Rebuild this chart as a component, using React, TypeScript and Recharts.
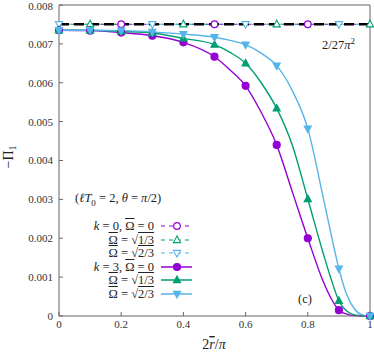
import React from 'react';
import { LineChart, Line, XAxis, YAxis } from 'recharts';

// abscissa 2r/pi
const xs = [0, 0.1, 0.2, 0.3, 0.4, 0.5, 0.55, 0.6, 0.65, 0.7, 0.75, 0.8, 0.85, 0.875, 0.9, 0.925, 0.95, 0.975, 1];
// k = 3 curves
const k3Omega0 = [0.00735, 0.00734, 0.00729, 0.00721, 0.00704, 0.00667, 0.00633, 0.00592, 0.00524, 0.0044, 0.0032, 0.002, 0.00088, 0.00045, 0.00015, 0.00005, 0.00001, 0, 0];
const k3OmegaSqrt13 = [0.00735, 0.00735, 0.00732, 0.00728, 0.00714, 0.00698, 0.00678, 0.0065, 0.006, 0.00534, 0.0044, 0.00301, 0.0016, 0.00095, 0.00039, 0.00013, 0.00003, 0.000005, 0];
const k3OmegaSqrt23 = [0.00735, 0.00735, 0.00734, 0.00731, 0.00725, 0.00717, 0.00709, 0.00698, 0.00676, 0.00644, 0.0058, 0.00482, 0.00303, 0.0021, 0.00122, 0.00055, 0.00018, 0.00003, 0];

// k = 0 curves (flat)
const k0Xs = [0, 0.1, 0.2, 0.3, 0.4, 0.5, 0.6, 0.7, 0.8, 0.9, 1];
const k0Omega0 = [0.007505, 0.007505, 0.007505, 0.007505, 0.007505, 0.007505, 0.007505, 0.007505, 0.007505, 0.007505, 0.007505];
const k0OmegaSqrt13 = [0.007505, 0.007505, 0.007505, 0.007505, 0.007505, 0.007505, 0.007505, 0.007505, 0.007505, 0.007505, 0.007505];
const k0OmegaSqrt23 = [0.007505, 0.007505, 0.007505, 0.007505, 0.007505, 0.007505, 0.007505, 0.007505, 0.007505, 0.007505, 0.007505];

// bound 2/27pi^2
const boundXs = [0, 1];
const boundValues = [0.007505, 0.007505];

// where markers sit
const k0Omega0Marks = [0.2, 0.5, 0.8];
const k0Sqrt13Marks = [0.1, 0.4, 0.7, 1];
const k0Sqrt23Marks = [0, 0.3, 0.6, 0.9];
const k3Marks = [0, 0.1, 0.2, 0.3, 0.4, 0.5, 0.6, 0.7, 0.8, 0.9, 1];

const xTicks = [0, 0.2, 0.4, 0.6, 0.8, 1];
const yTicks = [0, 0.001, 0.002, 0.003, 0.004, 0.005, 0.006, 0.007, 0.008];

const PURPLE = '#9400d3';
const GREEN = '#009e73';
const BLUE = '#56b4e9';
const AXIS = '#666';
const SERIF = 'Liberation Serif, DejaVu Serif, serif';

const mainData = xs.map((x, i) => ({ x, p: k3Omega0[i], g: k3OmegaSqrt13[i], b: k3OmegaSqrt23[i] }));
const k0Data = k0Xs.map((x, i) => ({ x, p: k0Omega0[i], g: k0OmegaSqrt13[i], b: k0OmegaSqrt23[i] }));
const boundData = boundXs.map((x, i) => ({ x, v: boundValues[i] }));

type Shape = 'circle' | 'up' | 'down';

function Marker({ shape, cx, cy, color, open }: { shape: Shape; cx: number; cy: number; color: string; open?: boolean }) {
  const fill = open ? '#fff' : color;
  if (shape === 'circle') return <circle cx={cx} cy={cy} r={open ? 3.3 : 3.5} fill={fill} stroke={color} strokeWidth={1.2} />;
  if (shape === 'up')
    return <polygon points={`${cx},${cy - 4} ${cx - 3.6},${cy + 2.6} ${cx + 3.6},${cy + 2.6}`} fill={fill} stroke={color} strokeWidth={1.1} />;
  return <polygon points={`${cx},${cy + 4} ${cx - 3.6},${cy - 2.6} ${cx + 3.6},${cy - 2.6}`} fill={fill} stroke={color} strokeWidth={1.1} />;
}

const dotAt = (marks: number[], shape: Shape, color: string, open?: boolean) => (props: any) => {
  const { cx, cy, payload, index } = props;
  if (!marks.some((m) => Math.abs(m - payload.x) < 1e-6)) return <g key={`n${index}`} />;
  return <Marker key={`m${index}`} shape={shape} cx={cx} cy={cy} color={color} open={open} />;
};

const yFmt = (v: number) => (v === 0 ? '0' : v.toFixed(3));
const xFmt = (v: number) => String(v);

function Sqrt({ children }: { children: React.ReactNode }) {
  return (
    <span>
      √<span style={{ borderTop: '1px solid #222' }}>{children}</span>
    </span>
  );
}
const OmegaBar = () => <span style={{ textDecoration: 'overline', fontStyle: 'normal' }}>Ω</span>;

function LegendRow({ y, label, color, shape, open }: { y: number; label: React.ReactNode; color: string; shape: Shape; open?: boolean }) {
  return (
    <>
      <div style={{ position: 'absolute', right: 374 - 154, top: y - 8, whiteSpace: 'nowrap', lineHeight: '16px' }}>{label}</div>
      <svg style={{ position: 'absolute', left: 158, top: y - 6 }} width={36} height={12}>
        <line x1={3} x2={34} y1={6} y2={6} stroke={color} strokeWidth={open ? 1.2 : 1.5} strokeDasharray={open ? '4 4' : undefined} />
        <Marker shape={shape} cx={19} cy={6} color={color} open={open} />
      </svg>
    </>
  );
}

export default function App() {
  return (
    <div style={{ position: 'absolute', left: 0, top: 0, width: 374, height: 353, fontFamily: SERIF, color: '#222' }}>
      <LineChart width={374} height={353} data={mainData} margin={{ top: 0, right: 0, bottom: 0, left: 0 }}>
        <XAxis
          dataKey="x"
          type="number"
          domain={[0, 1]}
          ticks={xTicks}
          tickFormatter={xFmt}
          height={37}
          stroke={AXIS}
          tickSize={-4}
          tickMargin={8}
          tick={{ fill: '#333', fontSize: 11, fontFamily: SERIF }}
          label={{
            content: () => (
              <text x={214} y={349} textAnchor="middle" fontFamily={SERIF} fontSize={14} fill="#222">
                2<tspan fontStyle="italic" style={{ textDecoration: 'overline' }}>r</tspan>/<tspan fontStyle="italic">π</tspan>
              </text>
            ),
          }}
        />
        <XAxis xAxisId="top" dataKey="x" type="number" domain={[0, 1]} ticks={xTicks} orientation="top" height={5} stroke={AXIS} tickSize={-4} tick={false} />
        <YAxis
          type="number"
          domain={[0, 0.008]}
          ticks={yTicks}
          tickFormatter={yFmt}
          width={59}
          stroke={AXIS}
          tickSize={-4}
          tickMargin={10}
          tick={{ fill: '#333', fontSize: 11, fontFamily: SERIF }}
          label={{
            content: () => (
              <text x={13} y={157} textAnchor="middle" fontFamily={SERIF} fontSize={14} fill="#222" transform="rotate(-90 13 157)">
                −Π<tspan fontSize={10} dy={3}>1</tspan>
              </text>
            ),
          }}
        />
        <YAxis yAxisId="right" type="number" domain={[0, 0.008]} ticks={yTicks} orientation="right" width={4} stroke={AXIS} tickSize={-4} tick={false} />

        {/* k = 0 dashed lines under the bound */}
        <Line data={k0Data} dataKey="p" stroke={PURPLE} strokeWidth={1.2} strokeDasharray="3 4" dot={false} isAnimationActive={false} />
        <Line data={k0Data} dataKey="g" stroke={GREEN} strokeWidth={1.2} strokeDasharray="3 4" strokeDashoffset={2} dot={false} isAnimationActive={false} />
        <Line data={k0Data} dataKey="b" stroke={BLUE} strokeWidth={1.2} strokeDasharray="3 4" strokeDashoffset={4} dot={false} isAnimationActive={false} />
        <Line data={boundData} dataKey="v" stroke="#000" strokeWidth={2.5} strokeDasharray="10 5" dot={false} isAnimationActive={false} />
        {/* k = 0 markers on top */}
        <Line data={k0Data} dataKey="p" stroke="none" dot={dotAt(k0Omega0Marks, 'circle', PURPLE, true)} isAnimationActive={false} />
        <Line data={k0Data} dataKey="g" stroke="none" dot={dotAt(k0Sqrt13Marks, 'up', GREEN, true)} isAnimationActive={false} />
        <Line data={k0Data} dataKey="b" stroke="none" dot={dotAt(k0Sqrt23Marks, 'down', BLUE, true)} isAnimationActive={false} />

        {/* k = 3 */}
        <Line type="monotone" dataKey="p" stroke={PURPLE} strokeWidth={1.4} dot={dotAt(k3Marks, 'circle', PURPLE)} isAnimationActive={false} />
        <Line type="monotone" dataKey="g" stroke={GREEN} strokeWidth={1.4} dot={dotAt(k3Marks, 'up', GREEN)} isAnimationActive={false} />
        <Line type="monotone" dataKey="b" stroke={BLUE} strokeWidth={1.4} dot={dotAt(k3Marks, 'down', BLUE)} isAnimationActive={false} />
      </LineChart>

      <div style={{ position: 'absolute', inset: 0, pointerEvents: 'none', fontSize: 12.5 }}>
        <div style={{ position: 'absolute', right: 374 - 355, top: 36, whiteSpace: 'nowrap' }}>
          2/27<i>π</i>
          <sup style={{ fontSize: 9 }}>2</sup>
        </div>
        <div style={{ position: 'absolute', left: 75, top: 191, whiteSpace: 'nowrap' }}>
          (<i>ℓT</i>
          <sub style={{ fontSize: 9 }}>0</sub> = 2, <i>θ</i> = <i>π</i>/2)
        </div>
        <div style={{ position: 'absolute', left: 298, top: 292 }}>(c)</div>

        <LegendRow y={226} color={PURPLE} shape="circle" open label={<><i>k</i> = 0, <OmegaBar /> = 0</>} />
        <LegendRow y={239.5} color={GREEN} shape="up" open label={<><OmegaBar /> = <Sqrt>1/3</Sqrt></>} />
        <LegendRow y={253} color={BLUE} shape="down" open label={<><OmegaBar /> = <Sqrt>2/3</Sqrt></>} />
        <LegendRow y={266.5} color={PURPLE} shape="circle" label={<><i>k</i> = 3, <OmegaBar /> = 0</>} />
        <LegendRow y={280} color={GREEN} shape="up" label={<><OmegaBar /> = <Sqrt>1/3</Sqrt></>} />
        <LegendRow y={293.5} color={BLUE} shape="down" label={<><OmegaBar /> = <Sqrt>2/3</Sqrt></>} />
      </div>
    </div>
  );
}
